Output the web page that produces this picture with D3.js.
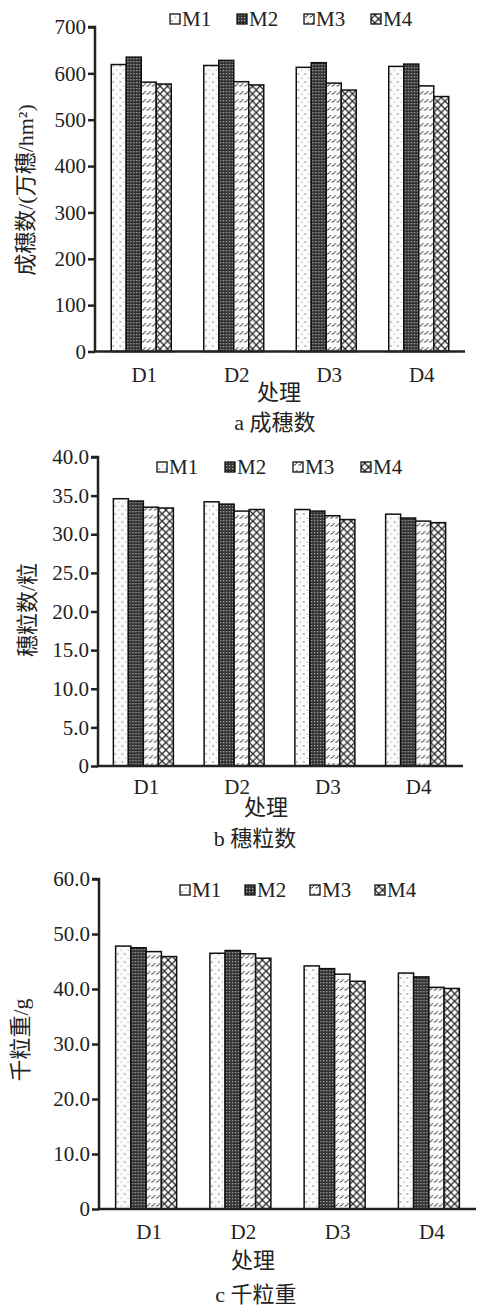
<!DOCTYPE html>
<html><head><meta charset="utf-8">
<script src="https://cdn.jsdelivr.net/npm/d3@7/dist/d3.min.js"></script>
<style>
body{margin:0;background:#fff;}
svg{display:block;}
</style>
</head><body>
<svg id="chart" width="481" height="1308"></svg>
<script>
// ---------- DATA ----------
const categories = ["D1", "D2", "D3", "D4"];
const seriesNames = ["M1", "M2", "M3", "M4"];
// values per category: [M1, M2, M3, M4]
const paniclesPerArea = [
  [619, 635, 581, 577],
  [617, 628, 582, 575],
  [613, 623, 579, 564],
  [615, 620, 573, 550]
];
const grainsPerPanicle = [
  [34.6, 34.3, 33.5, 33.4],
  [34.2, 33.9, 33.0, 33.2],
  [33.2, 33.0, 32.4, 31.9],
  [32.6, 32.1, 31.7, 31.5]
];
const thousandGrainWeight = [
  [47.8, 47.5, 46.8, 45.9],
  [46.5, 47.0, 46.4, 45.6],
  [44.2, 43.7, 42.7, 41.4],
  [42.9, 42.2, 40.3, 40.1]
];
const ticksA = [0, 100, 200, 300, 400, 500, 600, 700];
const tickLabelsA = ["0", "100", "200", "300", "400", "500", "600", "700"];
const ticksB = [0, 5, 10, 15, 20, 25, 30, 35, 40];
const tickLabelsB = ["0", "5.0", "10.0", "15.0", "20.0", "25.0", "30.0", "35.0", "40.0"];
const ticksC = [0, 10, 20, 30, 40, 50, 60];
const tickLabelsC = ["0", "10.0", "20.0", "30.0", "40.0", "50.0", "60.0"];
const yTitles = ["成穗数/(万穗/hm²)", "穗粒数/粒", "千粒重/g"];
const xTitle = "处理";
const captions = ["a  成穗数", "b 穗粒数", "c 千粒重"];

const NUMFONT = '"Liberation Serif","DejaVu Serif",serif';
const CJKFONT = '"Liberation Serif","Noto Sans CJK SC",serif';

// ---------- PATTERNS ----------
const svg = d3.select("#chart");
const defs = svg.append("defs");
const patIds = ["pM1", "pM2", "pM3", "pM4"];
// M1: sparse dots
let p = defs.append("pattern").attr("id", "pM1").attr("patternUnits", "userSpaceOnUse").attr("width", 7).attr("height", 8);
p.append("rect").attr("width", 7).attr("height", 8).attr("fill", "#fbfbfb");
p.append("circle").attr("cx", 2).attr("cy", 2).attr("r", 0.7).attr("fill", "#555");
p.append("circle").attr("cx", 5.5).attr("cy", 6).attr("r", 0.6).attr("fill", "#888");
// M2: dark grid
p = defs.append("pattern").attr("id", "pM2").attr("patternUnits", "userSpaceOnUse").attr("width", 3).attr("height", 3);
p.append("rect").attr("width", 3).attr("height", 3).attr("fill", "#333");
p.append("rect").attr("x", 1).attr("y", 1).attr("width", 1.3).attr("height", 1.3).attr("fill", "#a8a8a8");
// M3: short slanted dashes
p = defs.append("pattern").attr("id", "pM3").attr("patternUnits", "userSpaceOnUse").attr("width", 5).attr("height", 8);
p.append("rect").attr("width", 5).attr("height", 8).attr("fill", "#fafafa");
p.append("path").attr("d", "M0.5,6 L2,6 L4.5,3").attr("stroke", "#222").attr("stroke-width", 0.9).attr("fill", "none");
// M4: zigzag lattice
p = defs.append("pattern").attr("id", "pM4").attr("patternUnits", "userSpaceOnUse").attr("width", 7.5).attr("height", 7.5);
p.append("rect").attr("width", 7.5).attr("height", 7.5).attr("fill", "#fafafa");
p.append("path").attr("d", "M0,0 L3.75,3.75 L0,7.5 M7.5,0 L3.75,3.75 L7.5,7.5").attr("stroke", "#222").attr("stroke-width", 1.2).attr("fill", "none");

// ---------- CHART FUNCTION ----------
function drawChart(cfg) {
  const g = svg.append("g");
  const y = d3.scaleLinear().domain([0, cfg.max]).range([cfg.yBottom, cfg.yTop]);
  const x = d3.scaleBand().domain(categories).range([cfg.axisX, cfg.xRight]).padding(0);
  const groupW = cfg.groupW;
  const xs = d3.scaleBand().domain(seriesNames).range([0, groupW]).padding(0);

  // bars
  const grp = g.selectAll(".grp").data(categories).enter().append("g")
    .attr("transform", d => `translate(${x(d) + x.bandwidth() / 2 - groupW / 2},0)`);
  grp.selectAll("rect").data((d, i) => cfg.values[i].map((v, j) => ({v, s: seriesNames[j], j})))
    .enter().append("rect")
    .attr("x", d => xs(d.s))
    .attr("y", d => y(d.v))
    .attr("width", xs.bandwidth())
    .attr("height", d => y(0) - y(d.v))
    .attr("fill", d => `url(#${patIds[d.j]})`)
    .attr("stroke", "#111").attr("stroke-width", 1.5);

  // y axis
  const yAxis = d3.axisLeft(y).tickValues(cfg.ticks).tickFormat((d, i) => cfg.tickLabels[i]).tickSize(7).tickPadding(2);
  const ya = g.append("g").attr("transform", `translate(${cfg.axisX},0)`).call(yAxis)
    .attr("font-family", NUMFONT).attr("font-size", 21);
  ya.select(".domain").attr("stroke", "#222").attr("stroke-width", 2.5).attr("d", `M-7,${y(cfg.max)}H0V${y(0)}`);
  ya.selectAll(".tick line").attr("stroke", "#222").attr("stroke-width", 2.5);
  ya.selectAll(".tick text").style("font-family", NUMFONT).style("font-size", "21px").attr("fill", "#222");

  // x axis line
  const xAxis = d3.axisBottom(x).tickSize(0).tickPadding(0).tickFormat(() => "");
  const xa = g.append("g").attr("transform", `translate(0,${cfg.yBottom})`).call(xAxis);
  xa.select(".domain").attr("stroke", "#222").attr("stroke-width", 2.5).attr("d", `M${cfg.axisX},0H${cfg.xLineEnd}`);
  // category labels
  g.selectAll(".cat").data(categories).enter().append("text")
    .style("font-family", NUMFONT).style("font-size", "21px").attr("fill", "#222")
    .attr("x", d => x(d) + x.bandwidth() / 2 + 3)
    .attr("y", cfg.catY).attr("text-anchor", "middle").attr("dominant-baseline", "central").text(d => d);

  // titles
  const cjk = sel => sel.style("font-family", CJKFONT).style("font-size", "22px").attr("fill", "#222")
    .attr("text-anchor", "middle").attr("dominant-baseline", "central");
  g.append("text").call(cjk)
    .attr("transform", `translate(${cfg.yTitleX},${cfg.yTitleY}) rotate(-90)`).text(cfg.yTitle);
  g.append("text").call(cjk).attr("x", cfg.xTitleX).attr("y", cfg.xTitleY).text(xTitle);
  g.append("text").call(cjk).attr("x", cfg.capX).attr("y", cfg.capY).text(cfg.caption);

  // legend
  const lg = g.selectAll(".leg").data(seriesNames).enter().append("g")
    .attr("transform", (d, i) => `translate(${cfg.legX + i * cfg.legStep},${cfg.legY})`);
  lg.append("rect").attr("x", 0).attr("y", -5).attr("width", 10).attr("height", 10)
    .attr("fill", (d, i) => `url(#${patIds[i]})`).attr("stroke", "#111").attr("stroke-width", 1.3);
  lg.append("text").style("font-family", NUMFONT).style("font-size", "21px").attr("fill", "#222")
    .attr("x", 12).attr("y", 0).attr("dominant-baseline", "central").text(d => d);
}

drawChart({values: paniclesPerArea, max: 700, ticks: ticksA, tickLabels: tickLabelsA,
  axisX: 95, xRight: 465, xLineEnd: 465, yTop: 27, yBottom: 351.5, groupW: 60,
  catY: 375, yTitle: yTitles[0], yTitleX: 25, yTitleY: 190, xTitleX: 279, xTitleY: 392,
  caption: captions[0], capX: 275, capY: 422, legX: 170, legStep: 67, legY: 19});

drawChart({values: grainsPerPanicle, max: 40, ticks: ticksB, tickLabels: tickLabelsB,
  axisX: 98, xRight: 461, xLineEnd: 463, yTop: 457, yBottom: 766, groupW: 60,
  catY: 787, yTitle: yTitles[1], yTitleX: 27, yTitleY: 610, xTitleX: 266, xTitleY: 807,
  caption: captions[1], capX: 255, capY: 838, legX: 157, legStep: 68, legY: 467});

drawChart({values: thousandGrainWeight, max: 60, ticks: ticksC, tickLabels: tickLabelsC,
  axisX: 99, xRight: 476, xLineEnd: 476, yTop: 879, yBottom: 1209, groupW: 61,
  catY: 1232, yTitle: yTitles[2], yTitleX: 20, yTitleY: 1040, xTitleX: 253, xTitleY: 1260,
  caption: captions[2], capX: 256, capY: 1294, legX: 180, legStep: 65, legY: 890});
</script>
</body></html>
